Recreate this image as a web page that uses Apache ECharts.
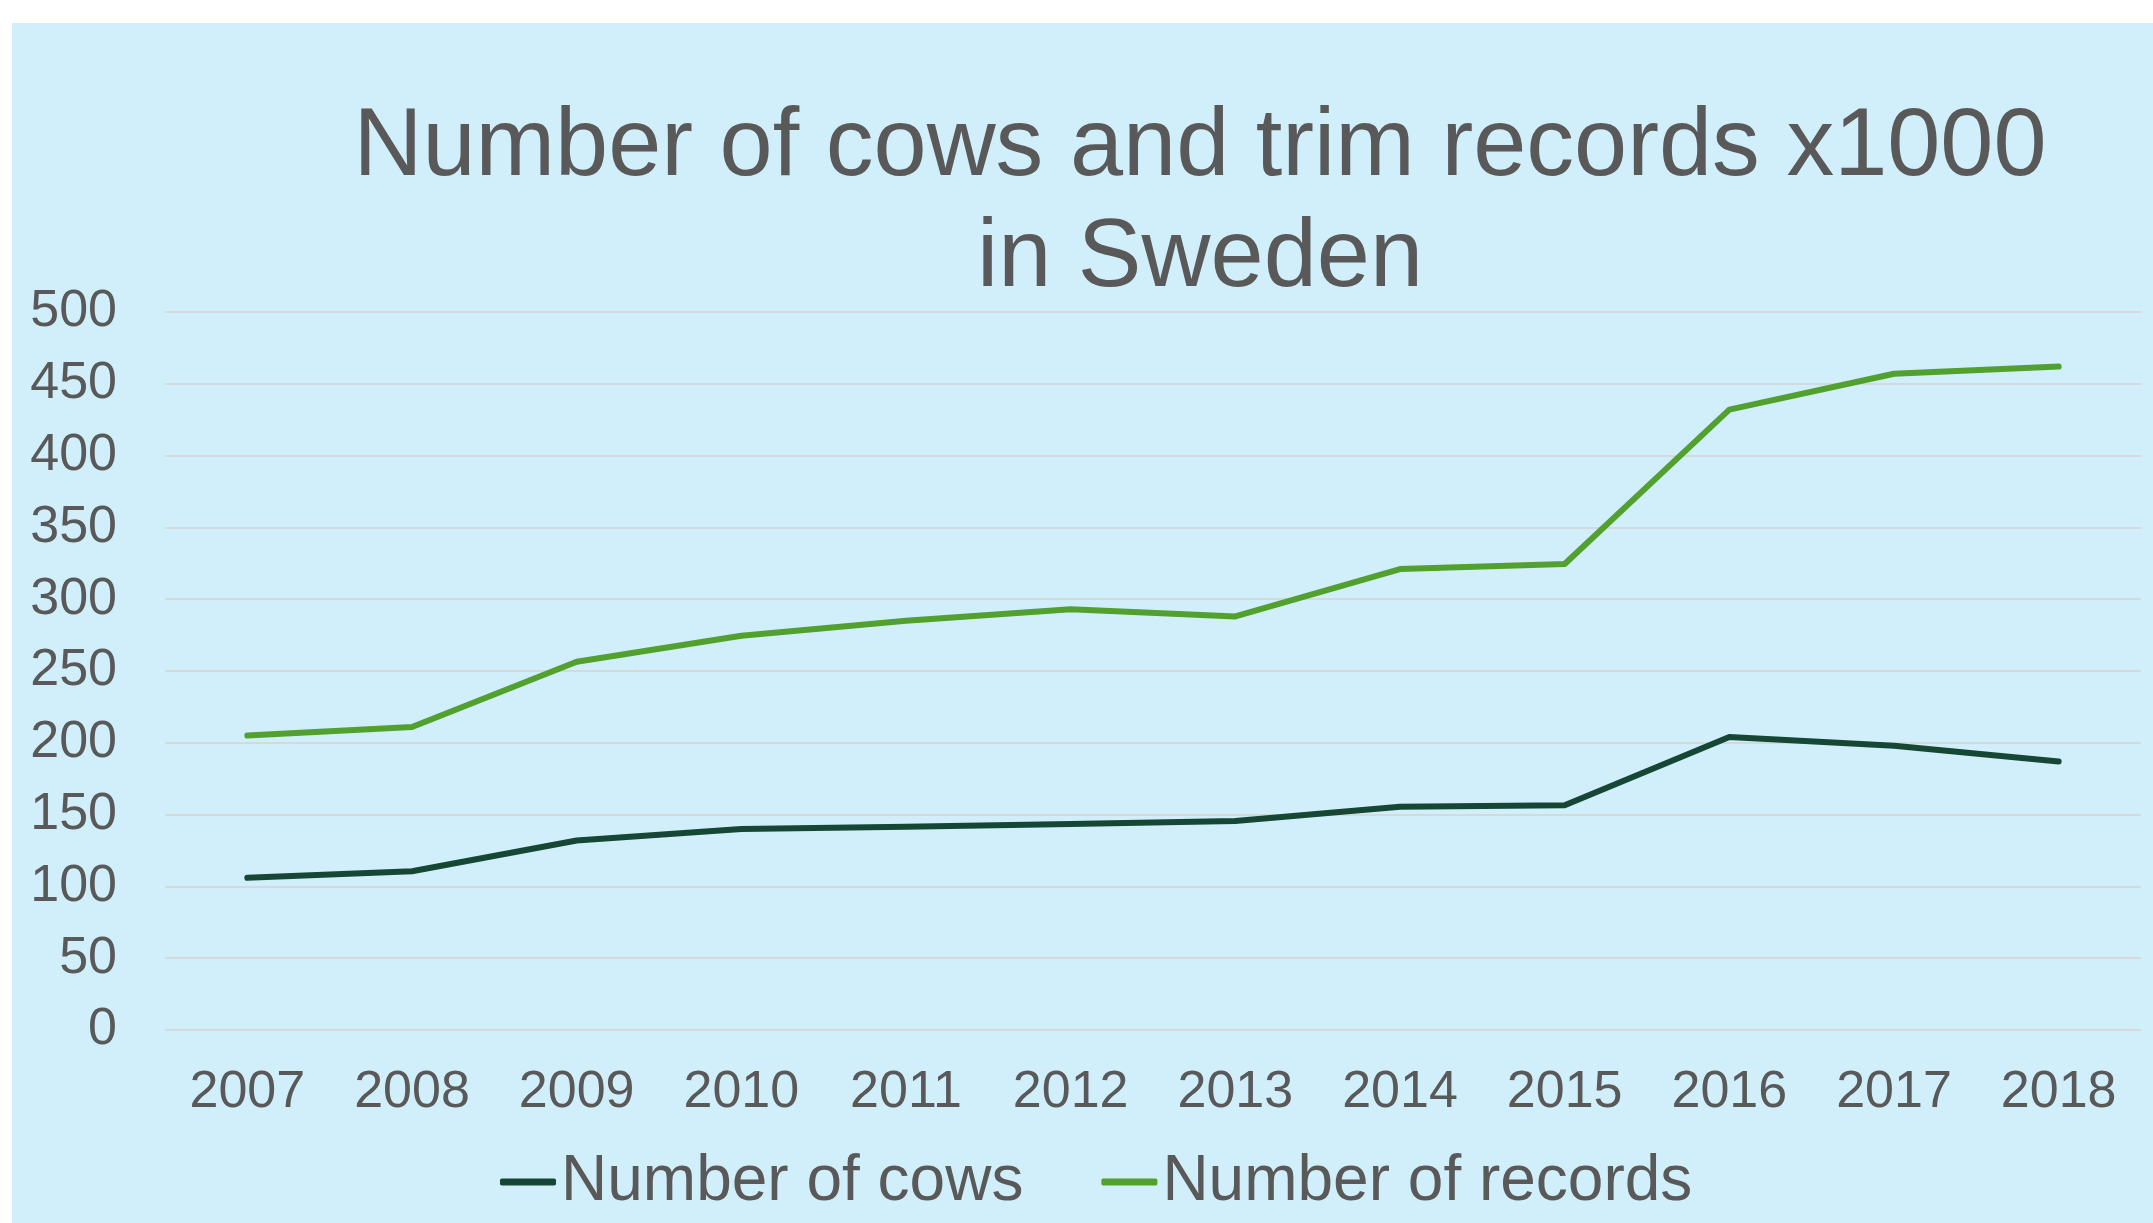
<!DOCTYPE html>
<html>
<head>
<meta charset="utf-8">
<script src="https://cdn.jsdelivr.net/npm/echarts@6/dist/echarts.min.js"></script>
<style>
  html, body { margin: 0; padding: 0; background: #ffffff; }
  #bg { position: absolute; left: 12px; top: 23px; width: 2141px; height: 1200px; background: #D0EFFB; }
  #chart { position: absolute; left: 0; top: 0; width: 2153px; height: 1223px; }
</style>
</head>
<body>
<div id="bg"></div>
<div id="chart"></div>
<script>
const years = ['2007','2008','2009','2010','2011','2012','2013','2014','2015','2016','2017','2018'];
const cows = [106, 110.5, 132, 140, 141.5, 143.5, 145.5, 155.5, 156.5, 204, 198, 187];
const records = [205, 211, 256.5, 274.5, 285, 293, 288, 321, 324.5, 432, 457, 462];
const seriesNames = ['Number of cows', 'Number of records'];
const titleText = 'Number of cows and trim records x1000\nin Sweden';

const textColor = '#595959';
const fontFamily = '"Liberation Sans", Arial, sans-serif';

const chart = echarts.init(document.getElementById('chart'), null, { renderer: 'canvas' });
chart.setOption({
  backgroundColor: 'transparent',
  animation: false,
  title: {
    text: titleText,
    left: 1200,
    top: 93,
    padding: 0,
    textAlign: 'center',
    textStyle: {
      color: textColor,
      fontSize: 95.5,
      fontWeight: 'normal',
      fontFamily: fontFamily,
      lineHeight: 111
    }
  },
  legend: {
    data: seriesNames,
    left: 500,
    top: 1150,
    padding: 0,
    itemGap: 78,
    itemWidth: 56,
    itemHeight: 7,
    icon: 'roundRect',
    textStyle: { color: textColor, fontSize: 64, fontFamily: fontFamily }
  },
  grid: { left: 165, right: 12, top: 312, bottom: 193, containLabel: false },
  xAxis: {
    type: 'category',
    data: years,
    boundaryGap: true,
    axisLine: { show: false },
    axisTick: { show: false },
    axisLabel: { color: textColor, fontSize: 52, fontFamily: fontFamily, margin: 37, interval: 0 }
  },
  yAxis: {
    type: 'value',
    min: 0,
    max: 500,
    interval: 50,
    axisLine: { show: false },
    axisTick: { show: false },
    axisLabel: { color: textColor, fontSize: 52, fontFamily: fontFamily, margin: 48 },
    splitLine: { show: true, lineStyle: { color: '#D6D9DB', width: 2 } }
  },
  series: [
    {
      name: seriesNames[0],
      type: 'line',
      data: cows,
      symbol: 'none',
      lineStyle: { color: '#154734', width: 6, cap: 'round', join: 'round' },
      itemStyle: { color: '#154734' }
    },
    {
      name: seriesNames[1],
      type: 'line',
      data: records,
      symbol: 'none',
      lineStyle: { color: '#52A02E', width: 6, cap: 'round', join: 'round' },
      itemStyle: { color: '#52A02E' }
    }
  ]
});
</script>
</body>
</html>
